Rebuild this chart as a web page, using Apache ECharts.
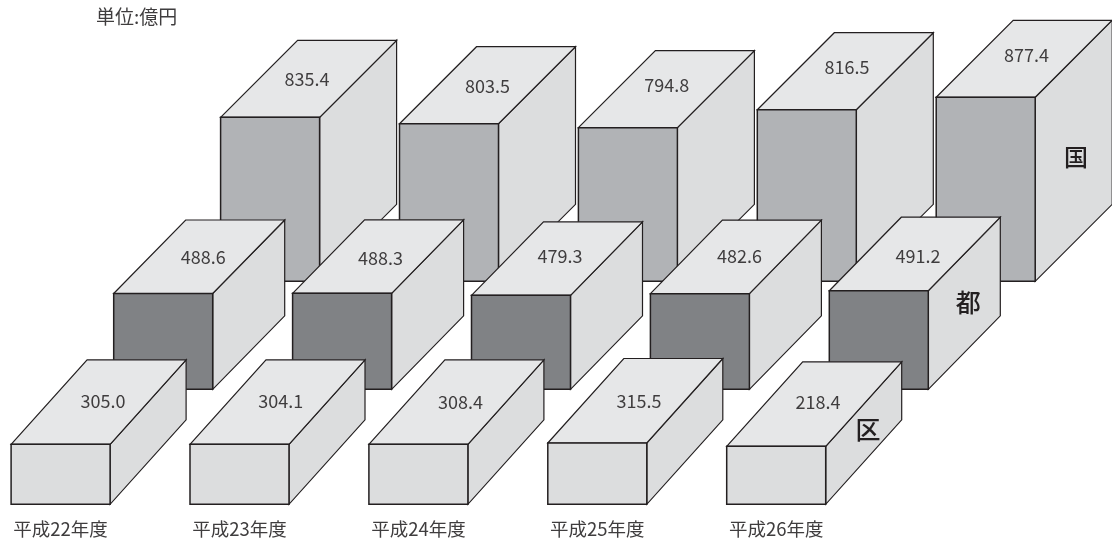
<!DOCTYPE html>
<html><head><meta charset="utf-8">
<style>html,body{margin:0;padding:0;background:#fff}#c{width:1112px;height:547px}</style>
<script src="https://cdn.jsdelivr.net/npm/echarts@6/dist/echarts.min.js"></script>
</head><body><div id="c"></div>
<script>
// Fiscal years on the category axis
const categories = ['平成22年度','平成23年度','平成24年度','平成25年度','平成26年度'];
// Printed values (億円)
const kuniValues = [835.4, 803.5, 794.8, 816.5, 877.4];
const toValues   = [488.6, 488.3, 479.3, 482.6, 491.2];
const kuValues   = [305.0, 304.1, 308.4, 315.5, 218.4];
// Height each block is actually drawn at in the picture, read in value-axis units
const kuniDrawn = [836.7, 804, 783.7, 875.5, 938.8];
const toDrawn   = [488.8, 489.8, 479.6, 487.8, 503];
const kuDrawn   = [306, 306, 306, 312.8, 296];

const INK = '#231f20', TEXT = '#3f3d3e', FONT = '"Noto Sans CJK JP","Noto Sans",sans-serif';
const TOP = '#e6e7e8', SIDE = '#dcddde', W = 99;

// Layout for each row of blocks (px): shift from the axis, depth of the parallelogram
const rows = [
  {name:'国', values:kuniValues, drawn:kuniDrawn, front:'#b1b3b6', sx:209.5, lift:223, dx:77, dy:77,
   nameAt:[40.7, 60], nameSize:24,
   nudge:[[-1.7,.6],[0,.7],[.3,-4],[1.7,-4.3],[2.2,-3.6]]},
  {name:'都', values:toValues, drawn:toDrawn, front:'#808285', sx:102.6, lift:115, dx:72, dy:73.5,
   nameAt:[40, 11.5], nameSize:25,
   nudge:[[4,0],[2.5,1.6],[3,-2],[3.5,-.7],[3.3,2.5]]},
  {name:'区', values:kuValues, drawn:kuDrawn, front:'#dcddde', sx:0, lift:0, dx:76, dy:84.5,
   nameAt:[42.3,-16.3], nameSize:25,
   nudge:[[4.3,-1.3],[3.3,-1],[4.2,-.3],[3.7,.7],[3.8,-2.3]]}
];

function poly(pts, fill, lw){
  return {type:'polygon', shape:{points:pts},
    style:{fill:fill, stroke:INK, lineWidth:lw, lineJoin:'miter'}};
}
function renderer(row){
  return function(params, api){
    const i = api.value(0);
    const base = api.coord([i, 0]), top = api.coord([i, api.value(1)]);
    const xl = base[0] - W/2 + row.sx, xr = xl + W;
    const yb = base[1] - row.lift, yt = top[1] - row.lift;
    const dx = row.dx, dy = row.dy;
    const kids = [
      poly([[xr,yt],[xr+dx,yt-dy],[xr+dx,yb-dy],[xr,yb]], SIDE, 1.2),
      poly([[xl,yt],[xl+dx,yt-dy],[xr+dx,yt-dy],[xr,yt]], TOP, 1.2),
      poly([[xl,yt],[xr,yt],[xr,yb],[xl,yb]], row.front, 1.5)
    ];
    const n = row.nudge[i];
    kids.push({type:'text', style:{
      text: api.value(2).toFixed(1),
      x:(xl+xr+dx)/2+n[0], y:yt-dy/2+n[1], align:'center', verticalAlign:'middle',
      font:'18px '+FONT, fill:TEXT}});
    if (i === categories.length-1) {
      kids.push({type:'text', style:{
        text: row.name, x:xr+row.nameAt[0], y:yt+row.nameAt[1], align:'center', verticalAlign:'middle',
        font:'500 '+row.nameSize+'px '+FONT, fill:INK}});
    }
    return {type:'group', children:kids};
  };
}

const chart = echarts.init(document.getElementById('c'), null, {renderer:'canvas'});
chart.setOption({
  animation:false,
  backgroundColor:'#fff',
  title:{text:'単位:億円', left:91, top:2,
    textStyle:{fontFamily:FONT, fontSize:19, fontWeight:400, color:TEXT}},
  grid:{left:60.6, width:715.6, top:14.3, height:490, containLabel:false},
  xAxis:{type:'category', data:categories, boundaryGap:false,
    axisLine:{show:false}, axisTick:{show:false}, splitLine:{show:false},
    axisLabel:{interval:0, margin:15, fontFamily:FONT, fontSize:18.5, color:TEXT, hideOverlap:false}},
  yAxis:{type:'value', min:0, max:2500, show:false},
  series: rows.map(row => ({
    type:'custom', name:row.name, coordinateSystem:'cartesian2d', clip:false, silent:true,
    renderItem:renderer(row),
    encode:{x:0, y:1},
    data: row.values.map((v,i)=>[i, row.drawn[i], v])
  }))
});
</script></body></html>
